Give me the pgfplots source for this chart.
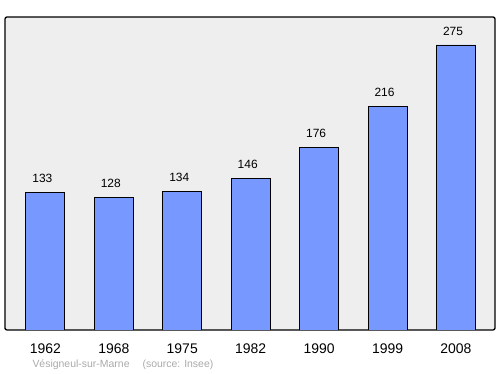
\documentclass[border=0pt]{standalone}
\usepackage{pgfplots}
\pgfplotsset{compat=1.18}
\usepackage{fontspec}
\setmainfont{Liberation Sans}
\definecolor{bg}{HTML}{EEEEEE}
\definecolor{barblue}{HTML}{7799FF}
\definecolor{foot}{HTML}{AAAAAA}
\begin{document}
\begin{tikzpicture}
\path[use as bounding box] (0,0) rectangle (500bp,374bp);
\begin{axis}[
  at={(5bp,44bp)}, anchor=south west,
  scale only axis, width=490bp, height=313bp,
  xmin=-0.59, xmax=6.57, ymin=0, ymax=302,
  axis background/.style={fill=bg},
  axis line style={line width=1.3pt, rounded corners=2pt},
  ybar, bar width=39bp,
  bar shift=0pt,
  xtick={0,1,2,3,4,5,6},
  xticklabels={1962,1968,1975,1982,1990,1999,2008},
  xtick style={draw=none},
  ytick=\empty,
  xticklabel style={font=\fontsize{14}{16}\selectfont, yshift=-6bp},
  /pgf/number format/assume math mode=true,
  nodes near coords,
  nodes near coords style={font=\fontsize{12}{14}\selectfont, yshift=6bp, xshift=-3bp},
]
\addplot[fill=barblue, draw=black, line width=0.8pt] coordinates {
(0,133) (1,128) (2,134) (3,146) (4,176) (5,216) (6,275)};
\end{axis}
\node[anchor=west, text=foot, font=\fontsize{10.5}{12}\selectfont] at (29bp,9bp) {Vésigneul-sur-Marne\hspace{13bp}(source: Insee)};
\end{tikzpicture}
\end{document}
